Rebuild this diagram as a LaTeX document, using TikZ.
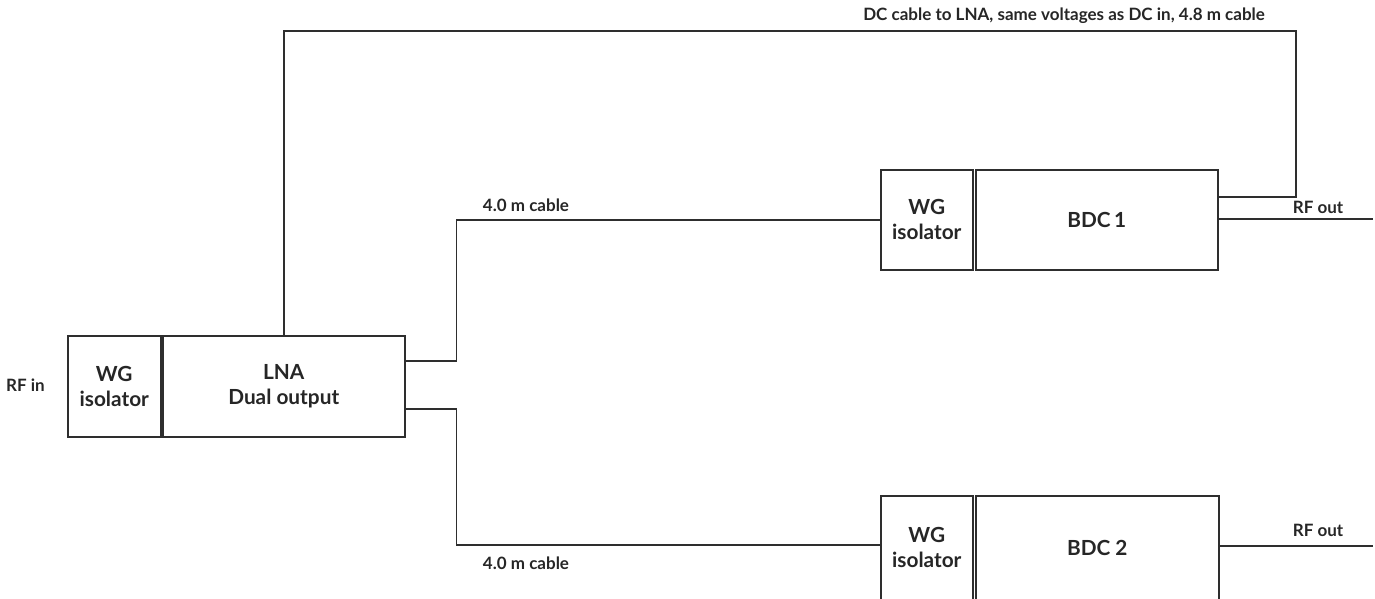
\documentclass[tikz,border=0pt]{standalone}
\usepackage{fontspec}
\setmainfont{Lato}
\usetikzlibrary{calc}
\definecolor{linec}{HTML}{2E2E2E}
\definecolor{txtc}{HTML}{262626}
\tikzset{
  blk/.style={draw=linec, line width=1.5pt, inner sep=0pt, anchor=north west, align=center,
    text=txtc, font=\bfseries\fontsize{20.8}{25}\selectfont},
  lbl/.style={inner sep=0pt, text=txtc, font=\bfseries\fontsize{17}{20}\selectfont},
  wire/.style={draw=linec, line width=1.5pt}
}
\begin{document}
\begin{tikzpicture}[x=1pt,y=-1pt]
\useasboundingbox (0,0) rectangle (1375,598);
% boxes
\node[blk, minimum width=93pt, minimum height=101pt] (wg0) at (67,335) {WG\\isolator};
\node[blk, minimum width=242pt, minimum height=101pt] (lna) at (162,335) {LNA\\Dual output};
\node[blk, minimum width=92pt, minimum height=100pt] (wg1) at (880,169) {WG\\isolator};
\node[blk, minimum width=242pt, minimum height=100pt] (bdc1) at (975,169) {BDC\,1};
\node[blk, minimum width=92pt, minimum height=104pt] (wg2) at (880,495) {WG\\isolator};
\node[blk, minimum width=243pt, minimum height=104pt] (bdc2) at (975,495) {BDC 2};
% labels
\node[lbl] (rfin) at (25.5,385) {RF in};
\node[lbl] (rfo1) at (1318,207) {RF out};
\node[lbl] (rfo2) at (1318,530) {RF out};
\node[lbl] (c1) at (526,205) {4.0 m cable};
\node[lbl] (c2) at (526,563) {4.0 m cable};
\node[lbl] (dc) at (1064,16) {DC cable to LNA, same voltages as DC in, 4.8 m cable};
% coordinates
\coordinate (dcR) at (1296,31);
\coordinate (rf1) at (1373,219);
\coordinate (rf2) at (1373,546);
% connectors
\draw[wire] (lna.north) |- (dcR) |- ($(bdc1.north east)+(0,28)$);
\draw[wire] ($(lna.north east)+(0,26)$) -- ++(51,0) |- (wg1.west);
\draw[wire] ($(lna.north east)+(0,74)$) -- ++(51,0) |- ($(wg2.north west)+(0,50)$);
\draw[wire] ($(bdc1.north east)+(0,50)$) -- (rf1);
\draw[wire] ($(bdc2.north east)+(0,51)$) -- (rf2);
\end{tikzpicture}
\end{document}
